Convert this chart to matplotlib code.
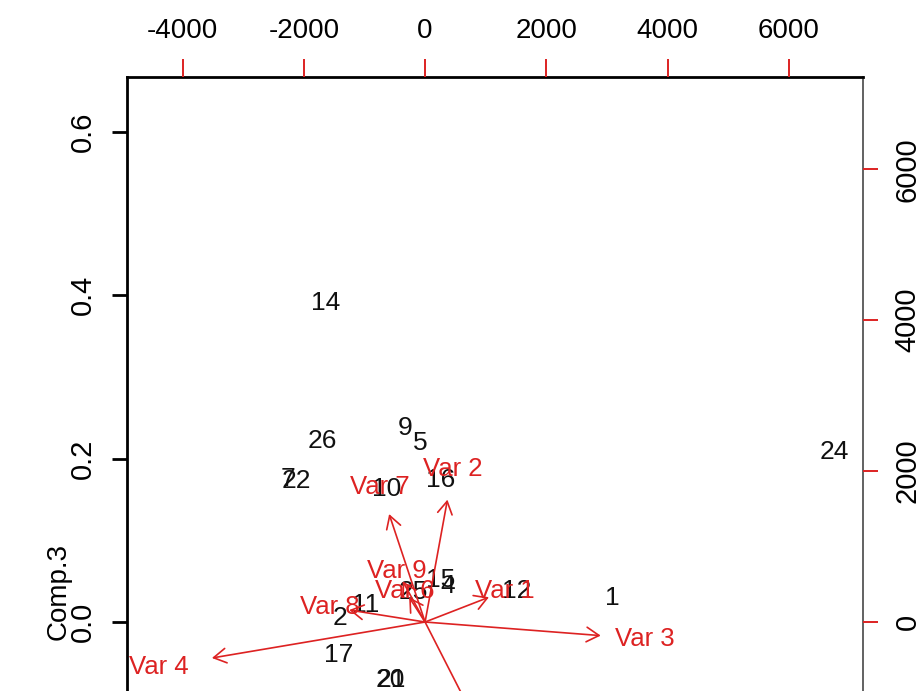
import matplotlib
matplotlib.use('Agg')
import matplotlib.pyplot as plt

# observation scores on Comp.2 / Comp.3
obs_labels = ['1', '2', '4', '5', '7', '9', '10', '11', '12', '14', '15', '16',
              '17', '20', '21', '22', '24', '25', '26']
obs_x = [0.285, -0.129, 0.035, -0.008, -0.209, -0.030, -0.059, -0.091, 0.139, -0.152,
         0.024, 0.024, -0.132, -0.053, -0.051, -0.196, 0.624, -0.018, -0.157]
obs_y = [0.029, 0.005, 0.044, 0.219, 0.175, 0.237, 0.163, 0.021, 0.038, 0.390,
         0.051, 0.174, -0.040, -0.071, -0.071, 0.173, 0.208, 0.037, 0.222]

# variable loadings
var_labels = ['Var 1', 'Var 2', 'Var 3', 'Var 4', 'Var 5', 'Var 6', 'Var 7', 'Var 8', 'Var 9']
var_x = [1317, 461, 3621, -4395, 1152, -329, -741, -1564, -461]
var_y = [411, 2027, -225, -596, -1815, 411, 1789, 199, 676]

top_ticks = [-4000, -2000, 0, 2000, 4000, 6000]
right_ticks = [0, 2000, 4000, 6000]
left_ticks = [0.0, 0.2, 0.4, 0.6]

red = '#dd2222'
font = ['Liberation Sans', 'DejaVu Sans']

lims = (-0.454, 0.667)
ratio = 10830

fig = plt.figure(figsize=(9.2, 6.91), dpi=100)
pos = [127 / 920, (691 - 993) / 691, (863 - 127) / 920, (993 - 77) / 691]

ax = fig.add_axes(pos)
ax.set_xlim(lims)
ax.set_ylim(lims)
ax.set_xticks([])
ax.set_yticks(left_ticks)
ax.set_yticklabels(['%.1f' % t for t in left_ticks], rotation=90, va='center',
                   family=font, fontsize=21)
ax.tick_params(axis='y', length=11, width=2, pad=11, color='black')
for s in ax.spines.values():
    s.set_linewidth(2)
ax.spines['right'].set_color('#555555')
ax.spines['right'].set_linewidth(1.3)
ax.set_ylabel('Comp.3', family=font, fontsize=20)
ax.yaxis.set_label_coords(-0.075, 0.438)

for lab, x, y in zip(obs_labels, obs_x, obs_y):
    ax.text(x, y, lab, ha='center', va='center', family=font, fontsize=19,
            color='#111111')

# loadings on their own scale
ax2 = fig.add_axes(pos, frameon=False)
ax2.set_xlim(lims[0] * ratio, lims[1] * ratio)
ax2.set_ylim(lims[0] * ratio, lims[1] * ratio)
ax2.xaxis.tick_top()
ax2.yaxis.tick_right()
ax2.set_xticks(top_ticks)
ax2.set_xticklabels(['%d' % t for t in top_ticks], family=font, fontsize=20)
ax2.set_yticks(right_ticks)
ax2.set_yticklabels(['%d' % t for t in right_ticks], rotation=90, va='center',
                    family=font, fontsize=21)
ax2.tick_params(axis='x', length=13, width=1.4, pad=11, color=red)
ax2.tick_params(axis='y', length=11, width=1.4, pad=11, color=red)

for lab, x, y in zip(var_labels, var_x, var_y):
    ax2.annotate('', xy=(0.8 * x, 0.8 * y), xytext=(0, 0),
                 arrowprops=dict(arrowstyle='->,head_length=0.6,head_width=0.35',
                                 color=red, lw=1.2, shrinkA=0, shrinkB=0,
                                 mutation_scale=15))
    ax2.text(x, y, lab, ha='center', va='center', family=font, fontsize=18.5,
             color=red)

plt.savefig('out.png', dpi=100)
